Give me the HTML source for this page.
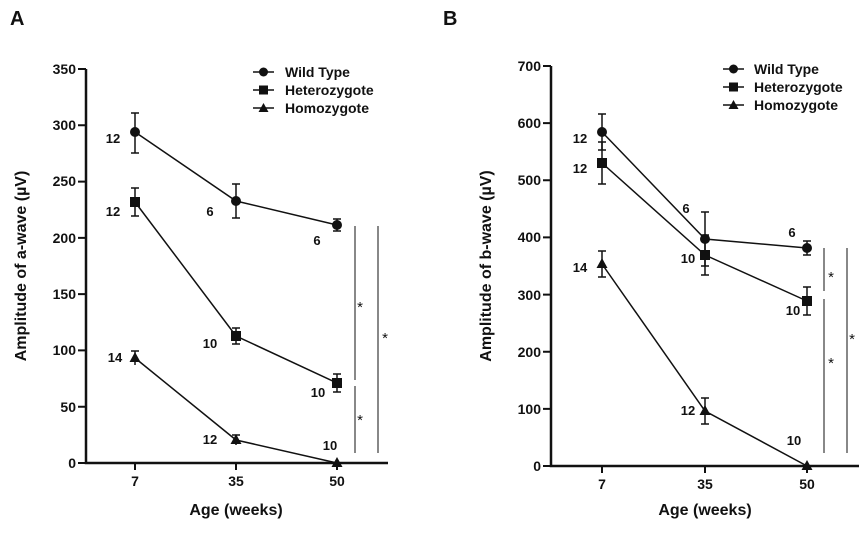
<!DOCTYPE html>
<html><head><meta charset="utf-8"><style>
html,body{margin:0;padding:0;background:#fff;}
svg{display:block;font-family:"Liberation Sans",Arial,sans-serif;}
.b{font-weight:bold;fill:#111;}
</style></head><body>
<svg width="866" height="537" viewBox="0 0 866 537" xmlns="http://www.w3.org/2000/svg">
<g stroke="#111" fill="none">
<path d="M86,69 V463 H388" stroke-width="2.5"/>
<path d="M78,69H86M78,125.3H86M78,181.6H86M78,237.9H86M78,294.1H86M78,350.4H86M78,406.7H86M78,463H86" stroke-width="2"/>
<path d="M135,463V470M236,463V470M337,463V470" stroke-width="2"/>
<g stroke-width="1.5">
<polyline points="135,132 236,201 337,225"/>
<polyline points="135,202 236,336 337,383"/>
<polyline points="135,358 236,440 337,463"/>
<path d="M135,113V153M131,113H139M131,153H139M236,184V218M232,184H240M232,218H240M337,219V231M333,219H341M333,231H341"/>
<path d="M135,188V216M131,188H139M131,216H139M236,328V344M232,328H240M232,344H240M337,374V392M333,374H341M333,392H341"/>
<path d="M135,351V365M131,351H139M236,435V445M232,435H240"/>
</g>
<g stroke-width="1">
<path d="M355,226V380M355,386V453M378,226V453"/>
</g>
<path d="M551,66 V466 H859" stroke-width="2.5"/>
<path d="M543,66H551M543,123.1H551M543,180.3H551M543,237.4H551M543,294.6H551M543,351.7H551M543,408.9H551M543,466H551" stroke-width="2"/>
<path d="M602,466V473M705,466V473M807,466V473" stroke-width="2"/>
<g stroke-width="1.5">
<polyline points="602,132 705,239 807,248"/>
<polyline points="602,163 705,255 807,301"/>
<polyline points="602,264 705,411 807,466"/>
<path d="M602,114V150M598,114H606M598,150H606M705,212V266M701,212H709M701,266H709M807,241V255M803,241H811M803,255H811"/>
<path d="M602,142V184M598,142H606M598,184H606M705,235V275M701,235H709M701,275H709M807,287V315M803,287H811M803,315H811"/>
<path d="M602,251V277M598,251H606M598,277H606M705,398V424M701,398H709M701,424H709"/>
</g>
<g stroke-width="1">
<path d="M824,248V291M824,299V453M847,248V453"/>
</g>
</g>
<g fill="#111">
<circle cx="135" cy="132" r="5"/><circle cx="236" cy="201" r="5"/><circle cx="337" cy="225" r="5"/>
<rect x="130" y="197" width="10" height="10"/><rect x="231" y="331" width="10" height="10"/><rect x="332" y="378" width="10" height="10"/>
<path d="M135,352 l5.5,10 h-11z M236,434 l5.5,10 h-11z M337,457 l5.5,10 h-11z"/>
<circle cx="602" cy="132" r="5"/><circle cx="705" cy="239" r="5"/><circle cx="807" cy="248" r="5"/>
<rect x="597" y="158" width="10" height="10"/><rect x="700" y="250" width="10" height="10"/><rect x="802" y="296" width="10" height="10"/>
<path d="M602,258 l5.5,10 h-11z M705,405 l5.5,10 h-11z M807,460 l5.5,10 h-11z"/>
<path d="M253,72H274M253,90H274M253,108H274M723,69H744M723,87H744M723,105H744" stroke="#111" stroke-width="1.5"/>
<circle cx="263.5" cy="72" r="4.5"/><rect x="259" y="85.5" width="9" height="9"/><path d="M263.5,103 l5,9 h-10z"/>
<circle cx="733.5" cy="69" r="4.5"/><rect x="729" y="82.5" width="9" height="9"/><path d="M733.5,100 l5,9 h-10z"/>
</g>
<g class="b" font-size="14">
<text x="285" y="77">Wild Type</text><text x="285" y="95">Heterozygote</text><text x="285" y="113">Homozygote</text>
<text x="754" y="74">Wild Type</text><text x="754" y="92">Heterozygote</text><text x="754" y="110">Homozygote</text>
</g>
<g class="b" font-size="14" text-anchor="end">
<text x="76" y="74">350</text><text x="76" y="130">300</text><text x="76" y="186">250</text><text x="76" y="243">200</text><text x="76" y="299">150</text><text x="76" y="355">100</text><text x="76" y="412">50</text><text x="76" y="468">0</text>
<text x="541" y="71">700</text><text x="541" y="128">600</text><text x="541" y="185">500</text><text x="541" y="242">400</text><text x="541" y="300">300</text><text x="541" y="357">200</text><text x="541" y="414">100</text><text x="541" y="471">0</text>
</g>
<g class="b" font-size="14" text-anchor="middle">
<text x="135" y="486">7</text><text x="236" y="486">35</text><text x="337" y="486">50</text>
<text x="602" y="489">7</text><text x="705" y="489">35</text><text x="807" y="489">50</text>
</g>
<g class="b" font-size="13" text-anchor="middle">
<text x="113" y="143">12</text><text x="113" y="216">12</text><text x="115" y="362">14</text>
<text x="210" y="216">6</text><text x="210" y="348">10</text><text x="210" y="444">12</text>
<text x="317" y="245">6</text><text x="318" y="397">10</text><text x="330" y="450">10</text>
<text x="580" y="143">12</text><text x="580" y="173">12</text><text x="580" y="272">14</text>
<text x="686" y="213">6</text><text x="688" y="263">10</text><text x="688" y="415">12</text>
<text x="792" y="237">6</text><text x="793" y="315">10</text><text x="794" y="445">10</text>
</g>
<g font-size="15" fill="#111" text-anchor="middle">
<text x="360" y="312">*</text><text x="360" y="425">*</text><text x="385" y="343">*</text>
<text x="831" y="282">*</text><text x="831" y="368">*</text><text x="852" y="344">*</text>
</g>
<g class="b" font-size="16" text-anchor="middle">
<text x="236" y="515">Age (weeks)</text>
<text x="705" y="515">Age (weeks)</text>
<text transform="translate(26,266) rotate(-90)">Amplitude of a-wave (µV)</text>
<text transform="translate(491,266) rotate(-90)">Amplitude of b-wave (µV)</text>
</g>
<g class="b" font-size="20">
<text x="10" y="25">A</text><text x="443" y="25">B</text>
</g>
</svg>
</body></html>
